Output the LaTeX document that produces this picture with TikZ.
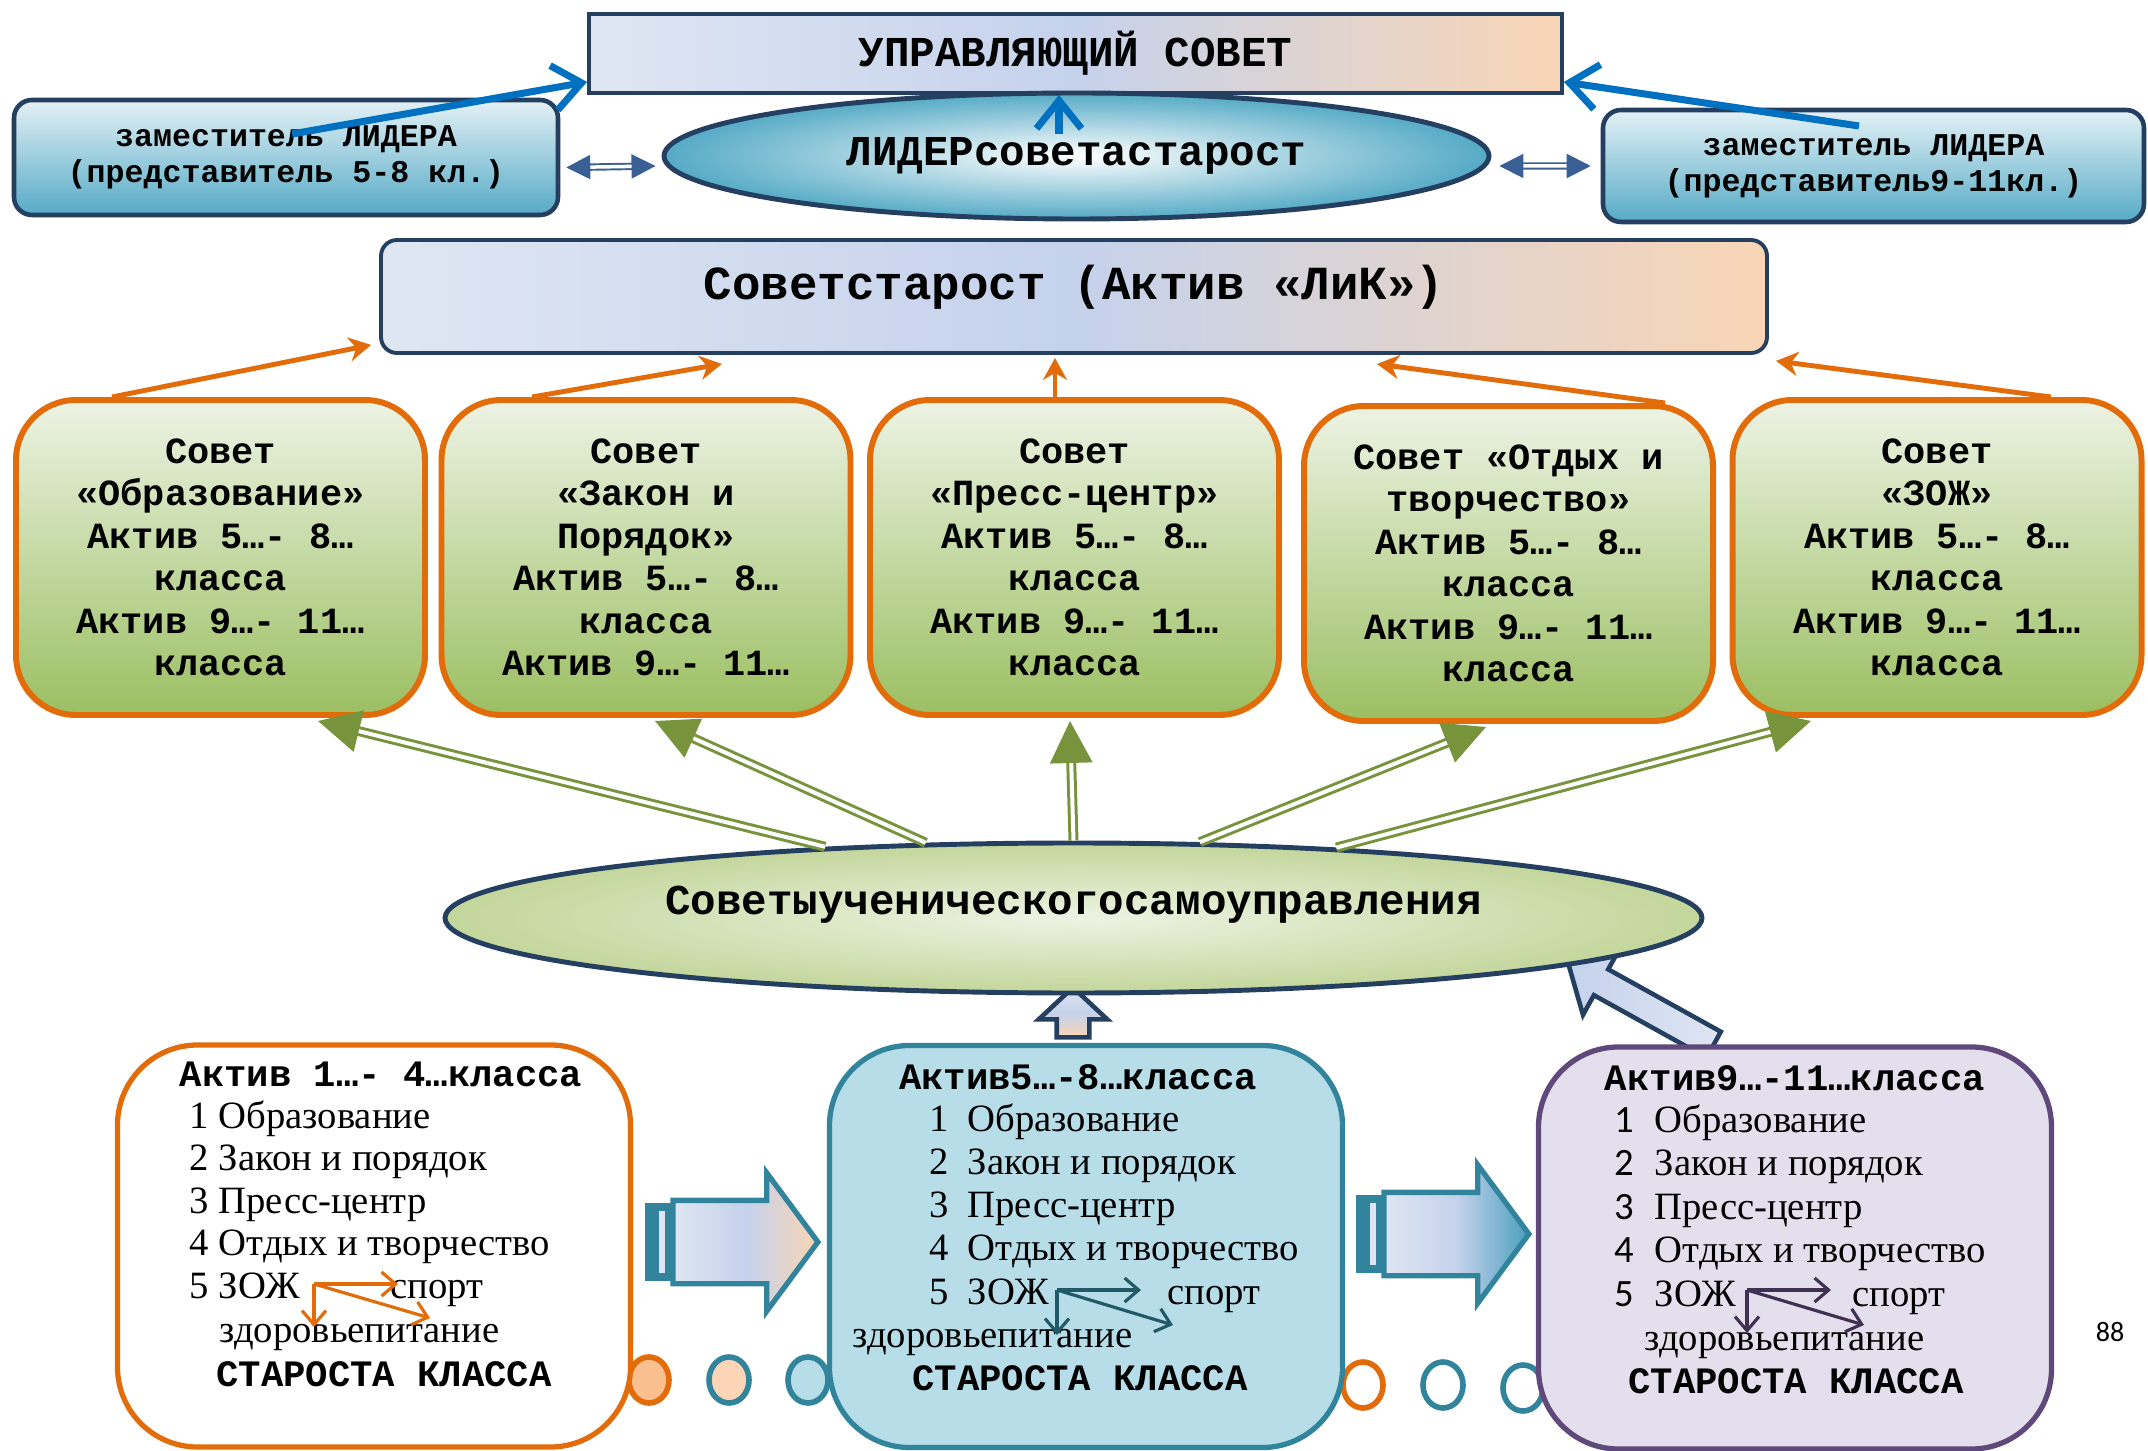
\documentclass[tikz,border=0pt]{standalone}
\usepackage{fontspec}
\setmainfont{Liberation Serif}
\setmonofont{Liberation Mono}
\newfontfamily\calibri{Carlito}
\usetikzlibrary{positioning,shapes.geometric,shapes.arrows,arrows.meta}

\definecolor{navy}{HTML}{243F60}
\definecolor{orng}{HTML}{E36C0A}
\definecolor{orngL}{HTML}{F9BF8F}
\definecolor{peach}{HTML}{FBD5B5}
\definecolor{tealb}{HTML}{31849B}
\definecolor{tealM}{HTML}{4A9FBD}
\definecolor{purp}{HTML}{5F497A}
\definecolor{bluearr}{HTML}{0070C0}
\definecolor{dblblue}{HTML}{3A5F95}
\definecolor{grn}{HTML}{77933C}
\definecolor{boxL}{HTML}{DFE6F3}
\definecolor{boxM}{HTML}{C5D2EC}
\definecolor{boxR}{HTML}{F9D5B5}
\definecolor{tealL}{HTML}{E4F1F6}
\definecolor{tealD}{HTML}{55AAC6}
\definecolor{grnL}{HTML}{EDF3E4}
\definecolor{grnD}{HTML}{9BBF62}
\definecolor{ellL}{HTML}{EDF3E3}
\definecolor{ellD}{HTML}{C3D69B}
\definecolor{aqua}{HTML}{B7DDE8}
\definecolor{lilac}{HTML}{E4DFEC}
\definecolor{darkteal}{HTML}{215968}
\definecolor{darkpurp}{HTML}{403152}

\begin{document}
\begin{tikzpicture}[x=0.1mm, y=-0.1mm,
    topbox/.style={draw=navy, line width=1.1pt, left color=boxL, right color=boxR, middle color=boxM,
        minimum width=97.3mm, minimum height=7.9mm, font=\ttfamily\bfseries\fontsize{12.1}{14}\selectfont},
    starbox/.style={topbox, rounded corners=1.6mm, minimum width=138.6mm, minimum height=11.3mm,
        font=\ttfamily\bfseries\fontsize{13.5}{15}\selectfont, text height=3.5mm, text depth=2.8mm},
    depbox/.style={draw=navy, line width=1.3pt, rounded corners=1.8mm, top color=tealL, bottom color=tealD,
        align=center, font=\ttfamily\bfseries\fontsize{9}{10.3}\selectfont},
    lidell/.style={ellipse, draw=navy, line width=1.4pt, inner color=white, outer color=tealD,
        minimum width=82.5mm, minimum height=12.6mm, font=\ttfamily\bfseries\fontsize{12.1}{14}\selectfont},
    council/.style={draw=orng, line width=1.7pt, rounded corners=6mm, top color=grnL, bottom color=grnD,
        minimum width=40.9mm, minimum height=31.5mm, align=center,
        font=\ttfamily\bfseries\fontsize{10.5}{12.1}\selectfont},
    sovell/.style={ellipse, draw=navy, line width=1.4pt, inner color=ellL, outer color=ellD,
        minimum width=125.7mm, minimum height=15mm, text height=3mm, text depth=3.8mm,
        font=\ttfamily\bfseries\fontsize{12.1}{14}\selectfont},
    classbox/.style={rounded corners=8mm, line width=1.5pt, minimum width=51.3mm, minimum height=40.2mm},
    blockarr/.style={single arrow, draw=tealb, line width=1.5pt, minimum height=14.5mm,
        inner xsep=0pt, inner ysep=3.9mm, text height=0pt, text depth=0pt,
        single arrow head extend=2.75mm, single arrow tip angle=107},
    uparr/.style={single arrow, draw=navy, line width=1.3pt, inner xsep=0pt, text height=0pt, text depth=0pt},
    dot/.style={ellipse, minimum width=4mm, minimum height=4.6mm, line width=1.6pt, inner sep=0pt},
    bluarrow/.style={draw=bluearr, line width=2pt, -{Straight Barb[length=2.8mm,width=4.5mm]}},
    dblarrow/.style={draw=dblblue, double=white, double distance=0.35mm, line width=0.55pt,
        {Triangle[length=2.4mm,width=2.4mm]}-{Triangle[length=2.4mm,width=2.4mm]}},
    orarrow/.style={draw=orng, line width=1.4pt, -{Stealth[length=2.2mm,width=2.4mm,inset=0.7mm]}},
    grnarrow/.style={draw=grn, double=white, double distance=0.4mm, line width=0.85pt,
        -{Triangle[length=4.2mm,width=4.2mm]}},
    smallarr/.style={line width=0.9pt, -{Straight Barb[length=1.4mm,width=2.4mm]}},
    item/.style={anchor=west, inner sep=0pt, text height=2.6mm, text depth=0.8mm, font=\fontsize{11}{13}\selectfont},
    ttl/.style={inner sep=0pt, font=\ttfamily\bfseries\fontsize{10.6}{12}\selectfont}]

\useasboundingbox (0,0) rectangle (2148,1451);

% small rings at the bottom
\node[dot, draw=orng, fill=orngL] (r1) at (649,1380) {};
\node[dot, draw=tealb, fill=peach] (r2) at (729,1380) {};
\node[dot, draw=tealb, fill=aqua] (r3) at (808,1380) {};
\node[dot, draw=orng, fill=white] (r4) at (1363,1385) {};
\node[dot, draw=tealb, fill=white] (r5) at (1443,1385) {};
\node[dot, draw=tealb, fill=white] (r6) at (1523,1388) {};

% striped block arrows between the class boxes
\fill[tealb] (645,1203) rectangle (672,1281);
\fill[boxL] (659,1211) rectangle (665,1273);
\node[blockarr, left color=boxL, right color=boxR, middle color=boxM] (ba1) at (730,1242) {};
\fill[tealb] (1356,1195) rectangle (1383,1273);
\fill[boxL] (1370,1203) rectangle (1376,1265);
\node[blockarr, left color=boxL, right color=tealM, middle color=boxM] (ba2) at (1441,1234) {};

% block arrows up into the big ellipse
\node[uparr, rotate=90, minimum height=5mm, inner ysep=1.4mm, single arrow head extend=1.8mm,
    single arrow tip angle=94, top color=boxL, bottom color=boxR, middle color=boxM] (up1) at (1073,1020) {};
\node[uparr, rotate=151, minimum height=16.6mm, inner ysep=1.25mm, single arrow head extend=2.25mm,
    single arrow tip angle=90, left color=boxM, right color=boxL] (up2) at (1647.5,1008) {};

\node[sovell] (sovU) at (1073.5,918) {Советыученическогосамоуправления};

% class boxes
\node[classbox, draw=orng, fill=white] (cls1) at (374,1246) {};
\node[classbox, draw=tealb, fill=aqua] (cls2) at (1086,1246.5) {};
\node[classbox, draw=purp, fill=lilac] (cls3) at (1795,1248) {};

\node[ttl] (ta) at (381,1074) {Актив 1…- 4…класса};
\foreach \t [count=\i] in {1 Образование, 2 Закон и порядок, 3 Пресс-центр, 4 Отдых и творчество, 5 ЗОЖ}
    \node[item] (a\i) at (189,{1119+42.5*(\i-1)}) {\t};
\node[item] (spa) at (390,1289) {спорт};
\node[item] (zda) at (219,1333) {здоровьепитание};
\node[ttl] (sta) at (384,1374) {СТАРОСТА КЛАССА};

\node[ttl] (tb) at (1078,1077) {Актив5…-8…класса};
\foreach \t [count=\i] in {Образование, Закон и порядок, Пресс-центр, Отдых и творчество, ЗОЖ}{
    \node[item] (bn\i) at (929,{1122+43.25*(\i-1)}) {\i};
    \node[item] (b\i) at (967,{1122+43.25*(\i-1)}) {\t};
}
\node[item] (spb) at (1167,1295) {спорт};
\node[item] (zdb) at (852,1338) {здоровьепитание};
\node[ttl] (stb) at (1080,1378) {СТАРОСТА КЛАССА};

\node[ttl] (tc) at (1795,1078) {Актив9…-11…класса};
\foreach \t [count=\i] in {Образование, Закон и порядок, Пресс-центр, Отдых и творчество, ЗОЖ}{
    \node[item, font=\calibri\fontsize{11}{13}\selectfont] (cn\i) at (1614,{1123+43.5*(\i-1)}) {\i};
    \node[item] (c\i) at (1654,{1123+43.5*(\i-1)}) {\t};
}
\node[item] (spc) at (1852,1297) {спорт};
\node[item] (zdc) at (1644,1341) {здоровьепитание};
\node[ttl] (stc) at (1796,1381) {СТАРОСТА КЛАССА};

% ZOZh arrows
\coordinate (za) at (314,1284);   \coordinate (za1) at (398,1284);
\coordinate (za2) at (430,1318);  \coordinate (za3) at (314,1327);
\coordinate (zb) at (1057,1290);  \coordinate (zb1) at (1141,1290);
\coordinate (zb2) at (1173,1325); \coordinate (zb3) at (1057,1335);
\coordinate (zc) at (1747,1290);  \coordinate (zc1) at (1831,1290);
\coordinate (zc2) at (1864,1325); \coordinate (zc3) at (1747,1333);
\draw[smallarr, draw=orng] (za) -- (za1);
\draw[smallarr, draw=orng] (za) -- (za2);
\draw[smallarr, draw=orng] (za) -- (za3);
\draw[smallarr, draw=darkteal] (zb) -- (zb1);
\draw[smallarr, draw=darkteal] (zb) -- (zb2);
\draw[smallarr, draw=darkteal] (zb) -- (zb3);
\draw[smallarr, draw=darkpurp] (zc) -- (zc1);
\draw[smallarr, draw=darkpurp] (zc) -- (zc2);
\draw[smallarr, draw=darkpurp] (zc) -- (zc3);

\node[font=\calibri\fontsize{8}{9}\selectfont] (pg) at (2110,1332) {88};

% top part
\node[topbox] (upr) at (1075.5,53.5) {УПРАВЛЯЮЩИЙ СОВЕТ};
\node[depbox, minimum width=54.4mm, minimum height=11.5mm] (depL) at (286,157.5)
    {заместитель ЛИДЕРА\\(представитель 5-8 кл.)};
\node[depbox, minimum width=54.1mm, minimum height=11.2mm] (depR) at (1873.5,166)
    {заместитель ЛИДЕРА\\(представитель9-11кл.)};
\node[lidell] (lider) at (1076.5,156) {ЛИДЕРсоветастарост};
\node[starbox] (star) at (1074,296.5) {Советстарост (Актив «ЛиК»)};

% councils
\node[council] (g1) at (220.5,557.5) {Совет\\«Образование»\\Актив 5…- 8…\\класса\\Актив 9…- 11…\\класса};
\node[council] (g2) at (646,557.5) {Совет\\«Закон и\\Порядок»\\Актив 5…- 8…\\класса\\Актив 9…- 11…};
\node[council] (g3) at (1074.5,557.5) {Совет\\«Пресс-центр»\\Актив 5…- 8…\\класса\\Актив 9…- 11…\\класса};
\node[council] (g4) at (1508.5,563.5) {Совет «Отдых и\\творчество»\\Актив 5…- 8…\\класса\\Актив 9…- 11…\\класса};
\node[council] (g5) at (1937,557.5) {Совет\\«ЗОЖ»\\Актив 5…- 8…\\класса\\Актив 9…- 11…\\класса};

% connectors
\draw[bluarrow] ([xshift=0.6mm,yshift=2.35mm]depL.center) -- ([yshift=1.3mm]upr.south west);
\draw[bluarrow] ([xshift=-1.45mm,yshift=4mm]depR.center) -- ([yshift=1.3mm]upr.south east);
\draw[bluarrow] ([xshift=-1.75mm,yshift=2.2mm]lider.center) -- ([xshift=-1.65mm]upr.south);

\draw[dblarrow] ([xshift=0.6mm,yshift=-1mm]depL.east) -- ([xshift=-0.6mm,yshift=-1mm]lider.west);
\draw[dblarrow] ([xshift=0.8mm,yshift=-1mm]lider.east) -- ([xshift=-1mm]depR.west);

\draw[orarrow] ([xshift=-10.85mm]g1.north) -- ([xshift=-0.8mm,yshift=1mm]star.south west);
\draw[orarrow] ([xshift=-11.4mm]g2.north) -- ([xshift=-35.2mm,yshift=-0.9mm]star.south);
\draw[orarrow] ([xshift=-1.95mm]g3.north) -- ([xshift=-1.9mm,yshift=-0.3mm]star.south);
\draw[orarrow] ([xshift=15.65mm]g4.north) -- ([xshift=30.3mm,yshift=-0.9mm]star.south);
\draw[orarrow] ([xshift=11.4mm]g5.north) -- ([xshift=0.7mm,yshift=-0.6mm]star.south east);

\draw[grnarrow] (sovU.164) -- ([xshift=9.75mm,yshift=-0.3mm]g1.south);
\draw[grnarrow] (sovU.153) -- ([xshift=0.9mm,yshift=-0.3mm]g2.south);
\draw[grnarrow] (sovU.90) -- ([xshift=-0.45mm,yshift=-0.3mm]g3.south);
\draw[grnarrow] (sovU.31) -- ([xshift=-2.25mm,yshift=-0.3mm]g4.south);
\draw[grnarrow] (sovU.15) -- ([xshift=-12.6mm,yshift=-0.3mm]g5.south);
\end{tikzpicture}
\end{document}
